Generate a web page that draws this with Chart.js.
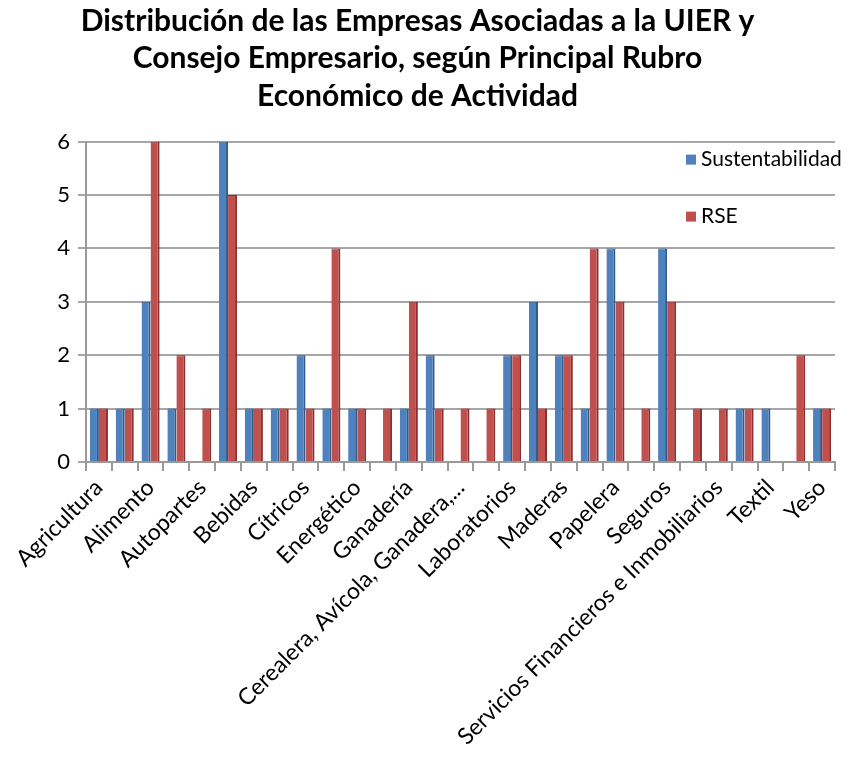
<!DOCTYPE html>
<html>
<head>
<meta charset="utf-8">
<script src="https://cdn.jsdelivr.net/npm/chart.js@4/dist/chart.umd.min.js"></script>
<style>
  html, body { margin: 0; background: #fff; }
  #wrap { width: 857px; height: 772px; }
</style>
</head>
<body>
<div id="wrap"><canvas id="categoryChart"></canvas></div>
<script>
// rubros: Excel solo rotula uno de cada dos, los intermedios no se leen
const categories = [
    'Agricultura', '', 'Alimento', '', 'Autopartes', '', 'Bebidas', '',
    'Cítricos', '', 'Energético', '', 'Ganadería', '',
    'Cerealera, Avícola, Ganadera,...', '', 'Laboratorios', '', 'Maderas', '',
    'Papelera', '', 'Seguros', '', 'Servicios Financieros e Inmobiliarios', '',
    'Textil', '', 'Yeso'
];
const sustentabilidad = [1, 1, 3, 1, 0, 6, 1, 1, 2, 1, 1, 0, 1, 2, 0, 0, 2, 3, 2, 1, 4, 0, 4, 0, 0, 1, 1, 0, 1];
const rse = [1, 1, 6, 2, 1, 5, 1, 1, 1, 4, 1, 1, 3, 1, 1, 1, 2, 1, 2, 4, 3, 1, 3, 1, 1, 1, 0, 2, 1];
const yTicks = [0, 1, 2, 3, 4, 5, 6];

const FONT = 'Lato, "Open Sans", sans-serif';

// leyenda superpuesta al área del gráfico, como en Excel
const overlayLegend = {
    id: 'overlayLegend',
    afterDraw(chart) {
        const { ctx, chartArea } = chart;
        const x = chartArea.right - 149;
        let y = chartArea.top + 18;
        ctx.save();
        ctx.font = '21px ' + FONT;
        ctx.textBaseline = 'middle';
        chart.data.datasets.forEach(ds => {
            ctx.fillStyle = ds.backgroundColor;
            ctx.fillRect(x, y - 5, 10, 10);
            ctx.fillStyle = '#000';
            ctx.fillText(ds.label, x + 15, y);
            y += 57;
        });
        ctx.restore();
    }
};

const ctx = document.getElementById('categoryChart').getContext('2d');
new Chart(ctx, {
    type: 'bar',
    data: {
        labels: categories,
        datasets: [
            {
                label: 'Sustentabilidad',
                data: sustentabilidad,
                backgroundColor: '#4F81BD',
                borderColor: '#2F5A8C',
                borderWidth: { right: 2, top: 1 },
                borderSkipped: 'bottom'
            },
            {
                label: 'RSE',
                data: rse,
                backgroundColor: '#C0504D',
                borderColor: '#8C2F2D',
                borderWidth: { right: 2, top: 1 },
                borderSkipped: 'bottom'
            }
        ]
    },
    options: {
        responsive: true,
        maintainAspectRatio: false,
        animation: false,
        datasets: {
            bar: { categoryPercentage: 0.7, barPercentage: 1.0 }
        },
        layout: { padding: { left: 0, right: 22, top: 0, bottom: 0 } },
        plugins: {
            legend: { display: false },
            tooltip: { enabled: false },
            title: {
                display: true,
                text: [
                    'Distribución de las Empresas Asociadas a la UIER y',
                    'Consejo Empresario, según Principal Rubro',
                    'Económico de Actividad'
                ],
                color: '#000',
                font: { family: FONT, size: 30, weight: 'bold', lineHeight: 1.24 },
                padding: { top: 3, bottom: 27 }
            }
        },
        scales: {
            x: {
                offset: true,
                grid: {
                    offset: true,
                    drawOnChartArea: false,
                    color: '#999',
                    lineWidth: 2,
                    tickLength: 9
                },
                border: { color: '#999', width: 2 },
                ticks: {
                    autoSkip: false,
                    maxRotation: 45,
                    minRotation: 45,
                    color: '#000',
                    font: { family: FONT, size: 23 }
                },
                afterFit(scale) { scale.height = 310; }
            },
            y: {
                min: 0,
                max: 6,
                afterBuildTicks(scale) { scale.ticks = yTicks.map(v => ({ value: v })); },
                grid: { color: '#a6a6a6', lineWidth: 2, tickLength: 8 },
                border: { color: '#999', width: 2 },
                ticks: {
                    color: '#000',
                    padding: 8,
                    font: { family: FONT, size: 22 }
                },
                afterFit(scale) { scale.width = 86; }
            }
        }
    },
    plugins: [overlayLegend]
});
</script>
</body>
</html>
